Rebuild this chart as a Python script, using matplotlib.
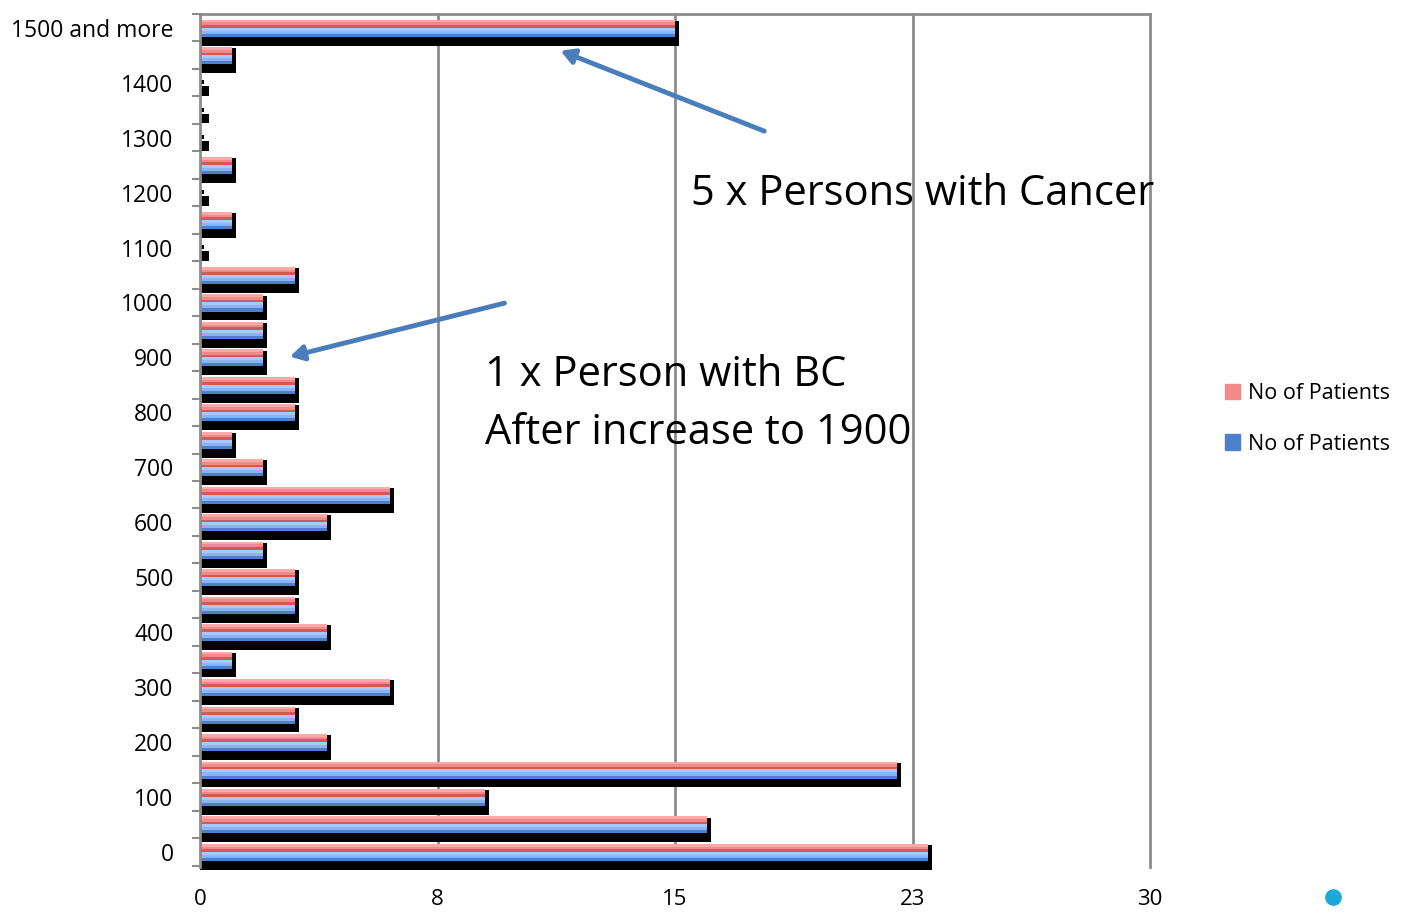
import matplotlib
matplotlib.use('Agg')
import matplotlib.pyplot as plt
import numpy as np

# Patient counts per size band (50-step bands, top band open-ended)
bands = [str(b) for b in range(0, 1500, 50)] + ["1500 and more"]
patients_a = [23, 16, 9, 22, 4, 3, 6, 1, 4, 3, 3, 2, 4, 6, 2, 1,
              3, 3, 2, 2, 2, 3, 0, 1, 0, 1, 0, 0, 0, 1, 15]
patients_b = [23, 16, 9, 22, 4, 3, 6, 1, 4, 3, 3, 2, 4, 6, 2, 1,
              3, 3, 2, 2, 2, 3, 0, 1, 0, 1, 0, 0, 0, 1, 15]
series_name = "No of Patients"

x_ticks = [0, 7.5, 15, 22.5, 30]
x_labels = ["0", "8", "15", "23", "30"]

FONT = "Open Sans"
GRID = "#8c8c8c"
RED_SHADES = ["#ffa8a8", "#f28a8a", "#cf5a58"]
BLUE_SHADES = ["#a9c8ff", "#8db2f2", "#4d7fcb"]
ARROW = "#4a7ebb"

fig = plt.figure(figsize=(14.08, 9.13), dpi=100)
fig.patch.set_facecolor("white")
ax = fig.add_axes([200 / 1408, 1 - 867 / 913, 950 / 1408, 853 / 913])

y = np.arange(len(bands))
a = np.array(patients_a, dtype=float)
b = np.array(patients_b, dtype=float)
top = np.maximum(a, b)

# depth shadow behind each pair; empty bands only get a small stub
has = top > 0
ax.barh(y[has] - 0.2, top[has] + 0.13, height=0.9, color="black",
        zorder=2, clip_on=False)
ax.barh(y[~has] - 0.3, np.full((~has).sum(), 0.27), height=0.35,
        color="black", zorder=2)
ax.barh(y[~has] + 0.02, np.full((~has).sum(), 0.12), height=0.14,
        color="black", zorder=2)


def shaded_bar(yc_top, vals, h, shades):
    # draw a bar as stacked horizontal strips, light on top, dark below
    strip = h / len(shades)
    for k, c in enumerate(shades):
        ax.barh(yc_top - strip * (k + 0.5), vals, height=strip,
                color=c, zorder=3, linewidth=0, clip_on=False)


shaded_bar(y + 0.29, a, 0.29, RED_SHADES)
shaded_bar(y, b, 0.33, BLUE_SHADES)

ax.set_xlim(0, 30)
ax.set_ylim(-0.55, len(bands) - 0.5)

for xv in x_ticks[1:]:
    ax.axvline(xv, color=GRID, lw=2, zorder=1, clip_on=False)

for s in ["right", "bottom"]:
    ax.spines[s].set_visible(False)
ax.spines["top"].set_color(GRID)
ax.spines["top"].set_linewidth(2)
ax.spines["left"].set_color(GRID)
ax.spines["left"].set_linewidth(2)
ax.spines["left"].set_zorder(4)

label_pos = list(range(0, 30, 2)) + [30]
ax.set_yticks(label_pos)
ax.set_yticklabels([bands[i] if i == 30 else str(i * 50) for i in label_pos])
ax.set_yticks(np.arange(-0.5, len(bands)), minor=True)
ax.tick_params(axis="y", which="major", length=0, pad=19,
               labelsize=16.5, labelfontfamily=FONT)
ax.tick_params(axis="y", which="minor", length=6, width=1.5,
               color=GRID, direction="out")

ax.set_xticks(x_ticks)
ax.set_xticklabels(x_labels)
ax.tick_params(axis="x", length=0, pad=16, labelsize=16,
               labelfontfamily=FONT)

# callouts
head = "-|>,head_length=0.8,head_width=0.45"
ax.annotate("", xy=(11.3, 29.2), xytext=(17.9, 26.2),
            arrowprops=dict(arrowstyle=head, color=ARROW, lw=3.5), zorder=6)
ax.annotate("", xy=(2.75, 18.0), xytext=(9.7, 20.0),
            arrowprops=dict(arrowstyle=head, color=ARROW, lw=3.5), zorder=6)
ax.text(15.5, 23.95, "5 x Persons with Cancer", fontsize=30, family=FONT,
        ha="left", va="center", zorder=7)
ax.text(9.0, 17.35, "1 x Person with BC", fontsize=30, family=FONT,
        ha="left", va="center", zorder=7)
ax.text(9.0, 15.25, "After increase to 1900", fontsize=30, family=FONT,
        ha="left", va="center", zorder=7)

# legend
handles = [plt.Rectangle((0, 0), 1, 1, color=RED_SHADES[1]),
           plt.Rectangle((0, 0), 1, 1, color=BLUE_SHADES[2])]
fig.legend(handles, [series_name, series_name], loc="center left",
           bbox_to_anchor=(1206 / 1408, 1 - 419 / 913), frameon=False,
           prop={"family": FONT, "size": 15.5}, handlelength=0.7,
           handleheight=0.7, handletextpad=0.35, labelspacing=1.35)

# marker dot in the corner
fig.add_artist(plt.Line2D([1333 / 1408], [1 - 897 / 913], marker="o",
                          ms=11, color="#1aa9d8", linestyle="none",
                          transform=fig.transFigure))

fig.savefig("out.png", dpi=100, facecolor="white")
